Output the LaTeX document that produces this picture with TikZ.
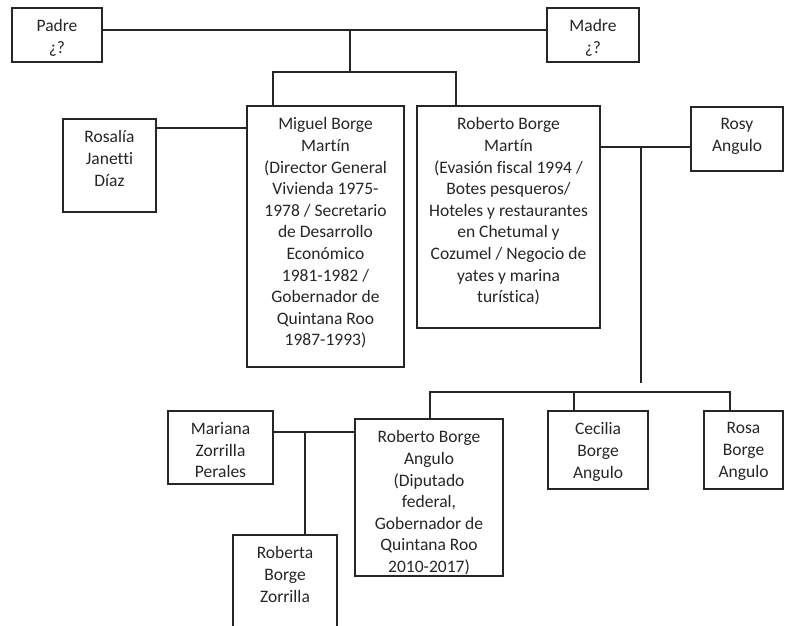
\documentclass[tikz,border=0pt]{standalone}
\usepackage{fontspec}
\setmainfont{Carlito}[Ligatures=NoCommon]
\begin{document}
\begin{tikzpicture}[x=1pt,y=-1pt,
  box/.style={draw=black!85, line width=1.1pt, inner sep=0pt, outer sep=0pt, fill=white},
  txt/.style={anchor=north, inner sep=0pt, align=center, text=black!85,
    font=\fontsize{17.5}{21.6}\selectfont},
  link/.style={draw=black!85, line width=1.1pt}]
\useasboundingbox[fill=white] (0,0) rectangle (788,625);

% boxes
\node[box, minimum width=90pt, minimum height=54pt] (padre) at (57,35) {};
\node[box, minimum width=92pt, minimum height=54pt] (madre) at (593,35) {};
\node[box, minimum width=93pt, minimum height=93pt] (rosalia) at (109.5,165.5) {};
\node[box, minimum width=157pt, minimum height=261pt] (miguel) at (325.5,236.5) {};
\node[box, minimum width=183pt, minimum height=222pt] (roberto) at (508.5,217) {};
\node[box, minimum width=92pt, minimum height=64pt] (rosy) at (737,139) {};
\node[box, minimum width=105pt, minimum height=73pt] (mariana) at (220.5,447.5) {};
\node[box, minimum width=148pt, minimum height=157pt] (rba) at (429,497.5) {};
\node[box, minimum width=100pt, minimum height=78pt] (cecilia) at (598,450) {};
\node[box, minimum width=79pt, minimum height=78pt] (rosa) at (743.5,450) {};
\node[box, minimum width=104pt, minimum height=110pt] (roberta) at (285,590) {};

% texts
\node[txt] (padre-t) at ([yshift=-11.5pt]padre.north) {Padre\\¿?};
\node[txt] (madre-t) at ([yshift=-11.5pt]madre.north) {Madre\\¿?};
\node[txt] (rosalia-t) at ([yshift=-11.5pt]rosalia.north) {Rosalía\\Janetti\\Díaz};
\node[txt] (miguel-t) at ([yshift=-11.5pt]miguel.north) {Miguel Borge\\Martín\\(Director General\\Vivienda 1975-\\1978 / Secretario\\de Desarrollo\\Económico\\1981-1982 /\\Gobernador de\\Quintana Roo\\1987-1993)};
\node[txt] (roberto-t) at ([yshift=-11.5pt]roberto.north) {Roberto Borge\\Martín\\(Evasión fiscal 1994 /\\Botes pesqueros/\\Hoteles y restaurantes\\en Chetumal y\\Cozumel / Negocio de\\yates y marina\\turística)};
\node[txt] (rosy-t) at ([yshift=-11.5pt]rosy.north) {Rosy\\Angulo};
\node[txt] (mariana-t) at ([yshift=-11.5pt]mariana.north) {Mariana\\Zorrilla\\Perales};
\node[txt] (rba-t) at ([yshift=-11.5pt]rba.north) {Roberto Borge\\Angulo\\(Diputado\\federal,\\Gobernador de\\Quintana Roo\\2010-2017)};
\node[txt] (cecilia-t) at ([yshift=-11.5pt]cecilia.north) {Cecilia\\Borge\\Angulo};
\node[txt] (rosa-t) at ([yshift=-11.5pt]rosa.north) {Rosa\\Borge\\Angulo};
\node[txt] (roberta-t) at ([yshift=-11.5pt]roberta.north) {Roberta\\Borge\\Zorrilla};

% connectors
\coordinate (pm) at (350,30);
\coordinate (kids) at (350,72);
\coordinate (bl) at (273,72);
\coordinate (br) at (456,72);
\draw[link] (padre.east |- pm) -- (madre.west |- pm);
\draw[link] (pm) -- (kids);
\draw[link] (miguel.north -| bl) -- (bl) -- (br) -- (roberto.north -| br);

\coordinate (rl) at (200,128);
\draw[link] (rosalia.east |- rl) -- (miguel.west |- rl);

\coordinate (rr) at (641,147);
\coordinate (rrd) at (641,383);
\draw[link] (roberto.east |- rr) -- (rosy.west |- rr);
\draw[link] (rr) -- (rrd);

\coordinate (c1) at (430,392);
\coordinate (c2) at (574,392);
\coordinate (c3) at (730,392);
\draw[link] (rba.north -| c1) -- (c1) -- (c3) -- (rosa.north -| c3);
\draw[link] (c2) -- (cecilia.north -| c2);

\coordinate (mr) at (305,432);
\draw[link] (mariana.east |- mr) -- (rba.west |- mr);
\draw[link] (mr) -- (roberta.north -| mr);
\end{tikzpicture}
\end{document}
